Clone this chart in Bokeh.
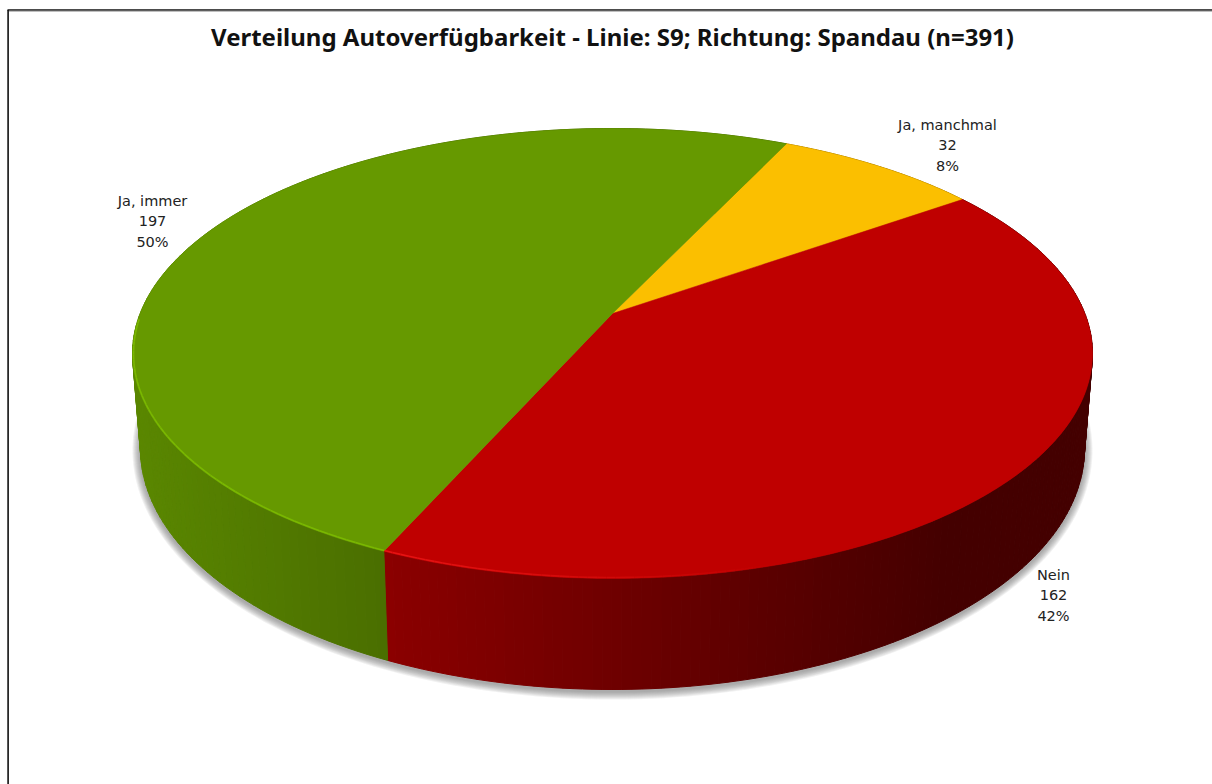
import math
from bokeh.plotting import figure
from bokeh.models import Range1d
from bokeh.core.properties import value
from bokeh.embed import file_html
from bokeh.resources import INLINE

# ---- data
title = "Verteilung Autoverfügbarkeit - Linie: S9; Richtung: Spandau (n=391)"
categories = ["Ja, manchmal", "Nein", "Ja, immer"]
counts = [32, 162, 197]
percent_labels = ["8%", "42%", "50%"]

# ---- styles
top_colors = [(251, 191, 0), (191, 0, 0), (102, 153, 0)]
side_left = [(190, 140, 0), (139, 0, 0), (90, 135, 0)]
side_right = [(150, 110, 0), (68, 0, 0), (74, 110, 0)]
rim_colors = [(255, 210, 60), (232, 20, 20), (122, 184, 0)]
shade_span = [(-1.0, 1.0), (-0.475, 0.70), (-1.0, -0.475)]
label_x = [947, 1053, 152]
label_y = [124, 574, 200]

# ---- geometry of the perspective pie (page pixels)
W, H = 1212, 784
CX, CY, RX, RY = 612.0, 353.0, 480.0, 225.0
BCY, BRX, BRY = 448.0, 472.0, 241.0
APEX_OFFSET = -40.0 / 225.0
START_DEG = -64.7

p = figure(width=W, height=H, x_range=Range1d(0, W), y_range=Range1d(H, 0),
           output_backend="svg", toolbar_location=None, min_border=0,
           outline_line_color=None, background_fill_color="white",
           border_fill_color="white")
p.axis.visible = False
p.grid.visible = False


def proj(theta):
    """True pie angle -> point on the unit ellipse seen in perspective."""
    a = APEX_OFFSET
    u0, v0 = math.cos(theta), math.sin(theta)
    d = 1 + a * v0
    return u0 * math.sqrt(1 - a * a) / d, (v0 + a) / d


def hexc(c):
    return "#%02x%02x%02x" % tuple(int(round(max(0, min(255, k)))) for k in c)


def mix(c1, c2, f):
    f = max(0.0, min(1.0, f))
    return tuple(x + (y - x) * f for x, y in zip(c1, c2))


# slice angles come from the counts
total = sum(counts)
edges = [math.radians(START_DEG)]
for c in counts:
    edges.append(edges[-1] + 2 * math.pi * c / total)

# shadow under the base
for k in range(8):
    grow = 8 - k
    xs, ys = [], []
    for i in range(240):
        t = 2 * math.pi * i / 240
        xs.append(CX + (BRX + grow) * math.cos(t))
        ys.append(BCY + 2 + (BRY + grow) * math.sin(t))
    p.patch(xs, ys, fill_color="#606060", fill_alpha=0.09, line_color=None)

# side walls
sx, sy, sc = [], [], []
for idx in range(len(counts)):
    n = 150
    for i in range(n):
        a0 = edges[idx] + (edges[idx + 1] - edges[idx]) * i / n
        a1 = edges[idx] + (edges[idx + 1] - edges[idx]) * (i + 1) / n
        u0, v0 = proj(a0)
        u1, v1 = proj(a1)
        sx.append([CX + RX * u0, CX + RX * u1, CX + BRX * u1, CX + BRX * u0])
        sy.append([CY + RY * v0, CY + RY * v1, BCY + BRY * v1, BCY + BRY * v0])
        lo, hi = shade_span[idx]
        sc.append(hexc(mix(side_left[idx], side_right[idx], (0.5 * (u0 + u1) - lo) / (hi - lo))))
p.patches(sx, sy, fill_color=sc, line_color=sc, line_width=1)

# top faces, meeting at the perspective centre
for idx in range(len(counts)):
    n = 200
    xs, ys = [CX], [CY + RY * APEX_OFFSET]
    for i in range(n + 1):
        u, v = proj(edges[idx] + (edges[idx + 1] - edges[idx]) * i / n)
        xs.append(CX + RX * u)
        ys.append(CY + RY * v)
    col = hexc(top_colors[idx])
    p.patch(xs, ys, fill_color=col, line_color=col, line_width=0.5)

# lighter rim along the front edge, fading to the right
rx, ry, rc = [], [], []
for idx in [1, 2]:
    n = 160
    for i in range(n):
        a0 = edges[idx] + (edges[idx + 1] - edges[idx]) * i / n
        a1 = edges[idx] + (edges[idx + 1] - edges[idx]) * (i + 1) / n
        u0, v0 = proj(a0)
        u1, v1 = proj(a1)
        if v0 < -0.15:
            continue
        rx.append([CX + (RX - 1) * u0, CX + (RX - 1) * u1])
        ry.append([CY + (RY - 1) * v0, CY + (RY - 1) * v1])
        f = 1.0 if idx == 2 else max(0.0, 1 - (u0 + 0.475) / 0.85)
        rc.append(hexc(mix(top_colors[idx], rim_colors[idx], f)))
p.multi_line(rx, ry, line_color=rc, line_width=1.6)

# frame of the picture (top and left only)
p.segment([7, 7.6], [9.5, 9.5], [W, 7.6], [9.5, H], line_color="#101010", line_width=1.6)
p.segment([8.5], [10.8], [W], [10.8], line_color="#b0b0b0", line_width=1)

# title and labels
p.text([612], [35.5], text=[title], text_align="center", text_baseline="middle",
       text_font=value("Noto Sans"), text_font_style="bold", text_font_size="24px",
       text_color="#111111")
tx, ty, tt = [], [], []
for i, cat in enumerate(categories):
    for j, s in enumerate([cat, str(counts[i]), percent_labels[i]]):
        tx.append(label_x[i])
        ty.append(label_y[i] + j * 20.5)
        tt.append(s)
p.text(tx, ty, text=tt, text_align="center", text_baseline="middle",
       text_font=value("DejaVu Sans"), text_font_size="14.5px", text_color="#222222")

open("out.html", "w").write(file_html(p, INLINE))
